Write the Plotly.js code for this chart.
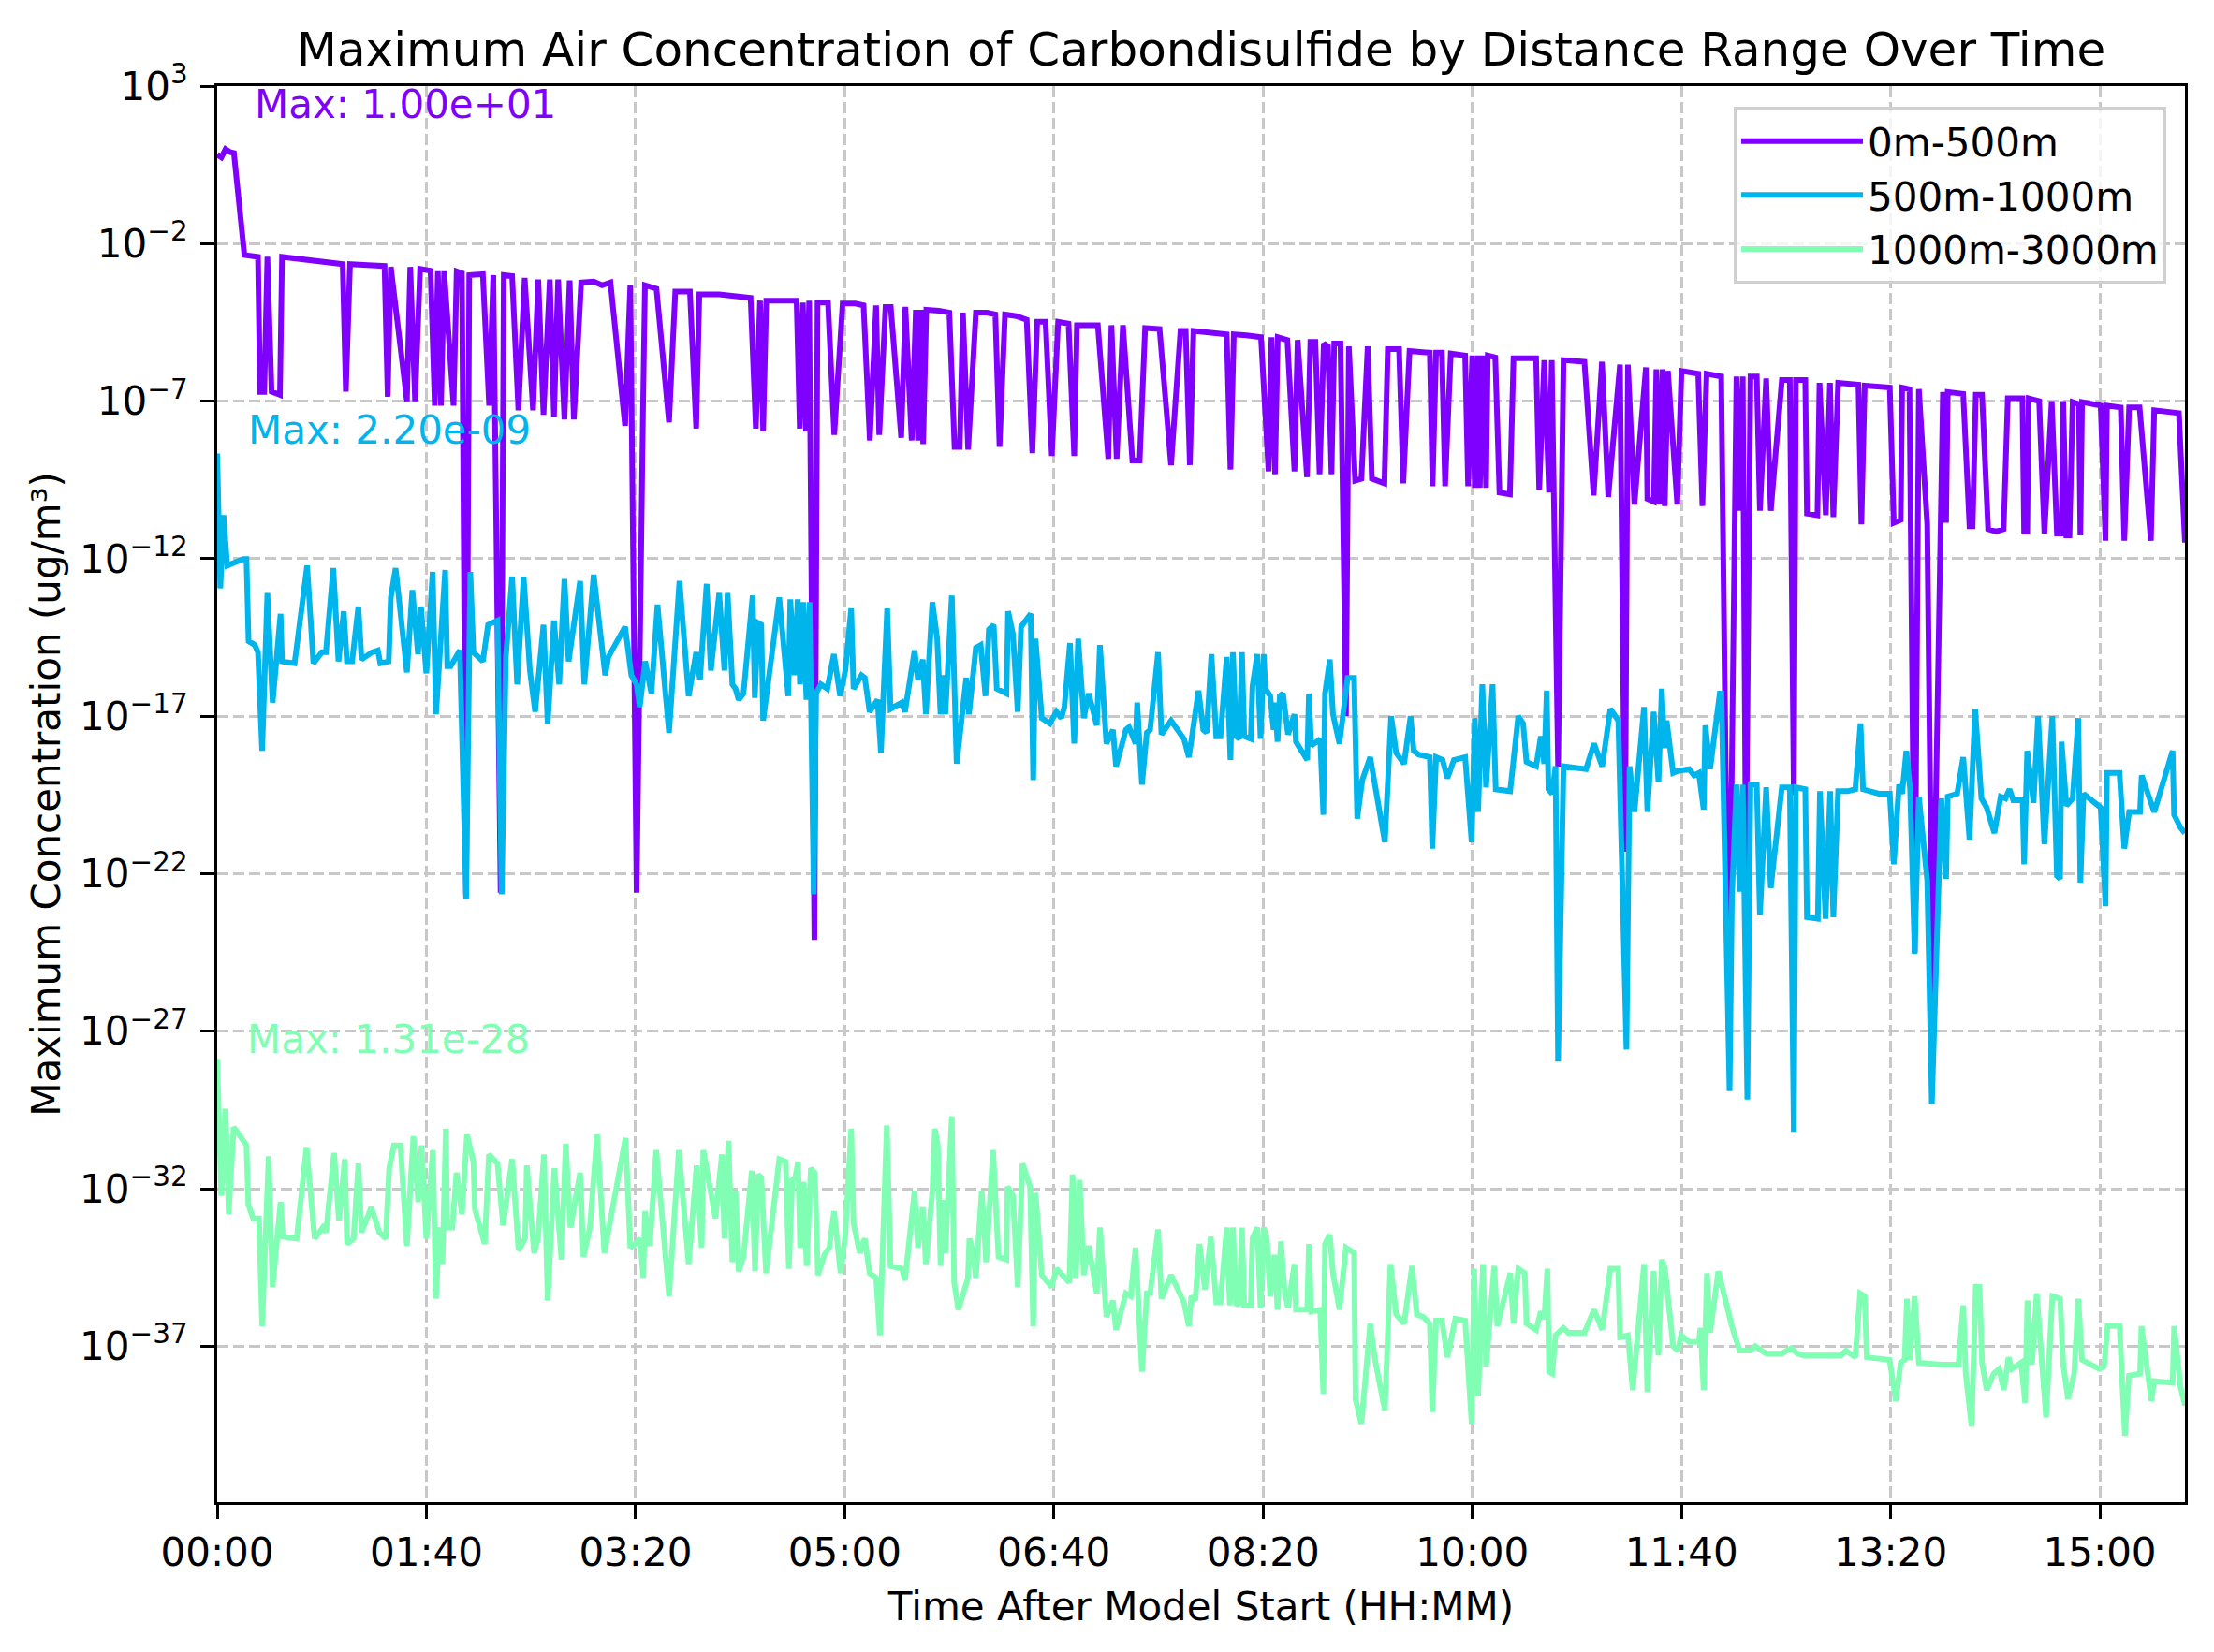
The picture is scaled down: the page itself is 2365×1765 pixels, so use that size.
<!DOCTYPE html>
<html>
<head>
<meta charset="utf-8">
<script src="https://cdn.plot.ly/plotly-3.0.1.min.js"></script>
<style>
  html, body { margin: 0; padding: 0; background: #ffffff; }
  #chart { width: 2365px; height: 1765px; }
</style>
</head>
<body>
<div id="chart"></div>
<script>
// Time after model start, in minutes
const seriesNames = ['0m-500m', '500m-1000m', '1000m-3000m'];
const seriesColors = ['#8000ff', '#00b4ec', '#80ffb4'];

// 0m-500m : times (min) and log10 of max concentration (ug/m3)
const time_0_500 = [0,2,4,6,8,13,19.5,20.5,22.5,24,26,30,31,40,50,60,61.5,63.5,72,80,81.5,83,90.7,92.3,94.6,97,102,104,105.5,107,108.5,113,114.5,117,119,120.5,127,130,132,135.5,137,141,144,147,151,153.5,156,159,161,163,166,168.5,170.5,174,180,184,188,195,197.5,200.5,203.5,204.5,210,216,219,226,229,230.5,240,
250,255,257.5,259.5,261,262.5,270,277,278.5,280,281.5,283,285.5,287,292,295,299,305,309,312,315,316.5,319.5,322,327,329,332,334,335,336.5,337.5,339,345,350,352.5,355,356.5,359,362.7,368,372,374,376.6,382,387,389.7,392,396,399,402,407,409.7,411,416,421,426,427.5,430,433,437.5,441,443.6,450.5,456,460.5,463,465,466.7,475,482.6,
484.4,486,492,499,502.6,504,505.7,507,511.6,515,516.5,521,522.6,525,527,529,531,532.7,534,537,539.6,541,544,547,550,552,558,559.6,565,567,570,575,579.7,581,582.7,585.5,587,589.7,596.6,598,600,601.2,602.8,603.6,605.2,606.6,607.4,611,613,618,619.7,625,630.5,632,634.4,636.7,638,641,643.6,653.6,658,662,665,670.6,673,674.4,677.5,683,683.7,686.8,688,689.5,691,692,693.5,698,700,708,710,712,719,
722.6,726.3,727.8,729.3,730.8,733,736,737.5,740.5,742.7,748,751.8,753.7,754.7,759.2,760,765,766,769,771,772.6,774.9,784.6,786,787.6,795,799.6,801.5,804.8,805.5,809,811.5,813.5,817.5,820,825,826.5,827.3,834.7,837.7,839.2,840.7,843.7,846.6,850.4,854,856,863,863.8,865.3,866,871,873.5,877,879.5,881.7,882.5,884,885.5,887,890,890.7,891.5,900.4,902.7,903.4,910,911.7,914,919,924.4,926,937.8,940.7];
const log10_0_500 = [0.83,0.74,1.0,0.91,0.88,-2.36,-2.42,-6.71,-6.71,-2.42,-6.7,-6.8,-2.42,-2.5,-2.57,-2.65,-6.7,-2.65,-2.68,-2.71,-6.86,-2.74,-7.0,-2.74,-7.0,-2.8,-2.86,-7.14,-2.88,-7.14,-2.88,-7.14,-2.88,-2.94,-22.7,-3.0,-2.97,-7.14,-3.0,-22.6,-3.0,-3.03,-7.29,-3.09,-7.29,-3.14,-7.43,-3.14,-7.49,-3.14,-7.58,-3.17,-7.58,-3.23,-3.2,-3.32,-3.23,-7.78,-3.32,-22.6,-7.58,-3.32,-3.43,-7.67,-3.52,-3.52,-7.87,-3.61,-3.61,
-3.67,-3.72,-7.87,-3.81,-7.96,-3.81,-3.81,-3.81,-7.87,-3.87,-7.96,-3.81,-24.1,-3.87,-3.87,-8.07,-3.9,-3.9,-3.96,-8.25,-3.96,-8.07,-4.01,-4.01,-8.16,-4.01,-8.25,-4.1,-8.25,-4.1,-8.36,-4.1,-4.13,-4.19,-8.45,-8.45,-4.19,-8.54,-4.19,-4.19,-4.25,-8.45,-4.25,-4.3,-4.42,-8.65,-4.48,-4.48,-8.74,-4.48,-4.54,-8.74,-4.59,-4.59,-4.59,-8.83,-4.59,-8.83,-4.59,-8.88,-8.88,-4.68,-4.71,-9.03,-4.77,-4.77,-9.03,-4.77,-4.83,-4.88,
-9.17,-4.88,-4.91,-4.97,-9.23,-4.97,-9.32,-4.97,-5.06,-9.23,-5.06,-9.41,-5.12,-5.12,-9.32,-5.17,-5.26,-9.32,-5.17,-5.17,-17.0,-5.26,-9.52,-9.46,-5.26,-9.46,-9.61,-5.35,-5.35,-9.61,-5.41,-5.43,-5.46,-9.7,-5.46,-5.46,-9.7,-5.49,-5.55,-9.7,-5.55,-9.75,-5.55,-9.75,-5.55,-9.75,-5.55,-5.61,-9.9,-9.96,-5.64,-5.64,-5.64,-9.81,-5.7,-9.9,-5.7,-18.6,-5.7,-5.75,-9.99,-5.75,-10.04,-5.84,-21.3,-5.84,-10.28,-5.93,-10.1,-10.19,-5.99,-10.28,-5.99,-10.33,-6.04,-10.28,-6.04,-6.13,-10.33,-6.13,-6.22,
-27.0,-6.22,-10.48,-6.22,-22.0,-6.22,-6.22,-10.48,-6.28,-10.48,-6.33,-6.33,-19.5,-6.33,-6.33,-10.57,-10.62,-6.42,-10.62,-6.42,-10.68,-6.42,-6.48,-10.91,-6.51,-6.54,-6.57,-10.86,-10.77,-6.57,-6.62,-24.5,-6.62,-10.91,-26.0,-6.71,-10.86,-6.71,-6.77,-10.97,-10.97,-6.8,-6.8,-11.06,-11.14,-11.06,-6.91,-6.91,-11.14,-11.14,-6.91,-7.0,-11.2,-7.0,-11.2,-11.2,-7.0,-11.26,-11.26,-7.03,-7.09,-11.26,-7.03,-7.14,-11.43,-7.14,-7.2,-11.43,-7.2,-7.2,-11.43,-7.29,-7.38,-11.49];

// 500m-1000m
const time_500_1000 = [0,1.5,3,4.8,12.5,14,15,18,19.5,21.5,24,26.5,30.3,31,37,43,46,50,52,55.5,58,60.5,62,64.5,67.5,69,74,76.8,78,82,83,85.3,90.7,93.3,96,97.4,100,103,104.6,109,110,111.6,116,119,121,122.5,127,129.5,134,136,138,141,143.4,146.5,149.5,152,156,158,161,163.5,166,168,173.5,175.5,180,185.5,187,195,198,200.5,202,204.6,207.6,210.5,216,221,225.4,229,230.8,234,236,240,
242.5,244,246.3,247.8,249.3,251.6,256,257,258.6,260.1,261,268.7,273,274,276,277.5,278.6,280.1,281.7,283.2,285.2,286.3,288.6,291.7,294.8,297.8,300.3,303.1,304.2,308,309.6,311.9,315.7,317.3,320.3,321.9,327.3,328.8,333.4,335,337.3,338.8,341.9,344.2,345.8,347.3,348.1,351.2,353.5,358.1,359.4,362.7,365,367.3,368.9,371.2,372.7,377.3,378.1,380.4,382.7,384.3,388.9,390.1,391.2,394.2,398.1,401.2,403.5,405,407.7,409.7,411.6,414.3,416.6,420.5,422,425.1,428.2,429.7,434.4,435.9,439,439.8,442.1,444.4,446,449.8,451.4,456,462.2,464.5,466,469.1,471.4,473,475.3,477.6,479.6,482.6,
484.4,485.6,487.1,488.7,489.9,491,494.1,494.9,497.2,498.8,500.3,501.1,503.4,505,505.7,506.9,508,509.5,511.9,515,515.7,521.1,521.9,523,525.7,527.3,528.8,529.6,531.9,533.4,536.5,540.4,543.5,545,547.4,551.2,558.2,561.2,563.6,567.4,570.5,572,574.3,579.7,580.9,582.7,585.8,588.1,591.2,596.6,599.7,601.2,602.8,604.8,606.6,607.7,609.7,611.2,618.1,622,624.3,625.9,630.5,632.8,634.4,635.6,636.4,638.2,639.8,641,643.6,654.4,658.2,662.1,666,669.8,673.7,675.2,677.5,682.1,683.7,686.7,689,690.6,691.8,692.9,696,698.3,703.7,706,708.3,710.6,711.4,713.7,718.3,719.1,723,
724.1,726.3,727.8,729.3,731.5,733,736,737.5,740.5,742.7,748,751.8,753.7,754.7,759.2,760,765.2,766.2,768.9,771.1,772.6,774.9,779.4,783.1,785.6,786.8,794.3,799.6,801.5,804,805.5,807.5,809.3,811.5,813.5,817.5,819.7,824.2,826.5,827.3,831.8,834.7,837.7,840.4,843.4,845.9,849.6,852.6,854.9,856.8,858.6,863.1,863.8,865.3,868.3,870.5,873.5,877.3,879.5,881,881.7,884,887,889.7,890.7,892.2,900.4,902.7,903.4,909.4,911.7,914,919.2,920,926,934.8,935.5,938.6,940.7];
const log10_500_1000 = [-8.66,-12.94,-10.62,-12.22,-12.01,-12.01,-14.62,-14.74,-14.97,-18.1,-13.09,-16.57,-13.75,-15.26,-15.32,-12.22,-15.32,-14.97,-14.97,-12.3,-15.26,-13.67,-15.26,-15.26,-13.52,-15.2,-14.97,-14.91,-15.32,-15.26,-13.23,-12.3,-15.61,-13.0,-15.03,-13.52,-15.64,-12.42,-16.94,-12.36,-15.41,-15.41,-14.91,-22.8,-12.42,-14.97,-15.26,-14.1,-13.96,-22.65,-15.12,-12.57,-15.99,-12.57,-15.55,-16.86,-14.1,-17.23,-13.96,-15.99,-12.65,-15.26,-12.71,-15.99,-12.51,-15.7,-15.12,-14.16,-15.7,-15.99,-16.71,-15.26,-16.28,-13.46,-17.52,-12.71,-16.36,-14.97,-15.84,-12.8,-15.55,-13.09,
-15.55,-13.09,-15.99,-16.13,-16.48,-16.28,-13.17,-16.42,-14.04,-14.1,-17.14,-13.23,-16.36,-13.29,-15.7,-13.29,-15.99,-13.38,-16.48,-13.38,-22.65,-16.28,-15.99,-16.13,-15.03,-16.36,-15.55,-13.58,-16.13,-15.7,-15.78,-16.86,-16.48,-18.16,-13.58,-16.77,-16.57,-16.86,-14.91,-15.84,-15.2,-16.94,-13.38,-14.54,-16.94,-15.7,-16.94,-13.17,-18.51,-15.78,-16.94,-14.83,-14.74,-16.36,-14.25,-14.1,-16.13,-16.28,-13.67,-14.39,-16.86,-14.16,-13.75,-19.03,-14.54,-17.06,-17.23,-16.86,-17.06,-16.71,-14.68,-17.87,-14.54,-17.06,-16.28,-17.29,-14.74,-17.87,-17.43,-18.59,-17.43,-17.35,-17.87,-16.57,-19.17,-17.52,-17.43,-14.97,-17.58,-17.14,-17.72,-18.3,-17.64,-16.19,-17.43,-17.52,-15.03,-17.64,-17.64,-15.12,
-18.39,-14.97,-17.64,-17.72,-14.97,-17.64,-17.72,-16.07,-15.03,-17.72,-15.03,-16.13,-16.36,-17.43,-16.57,-17.81,-16.36,-16.28,-17.58,-16.94,-17.81,-18.39,-16.28,-17.93,-17.81,-17.72,-20.13,-16.28,-15.2,-16.94,-17.87,-15.78,-15.78,-20.25,-19.03,-18.3,-21.0,-17.0,-18.16,-18.51,-17.0,-18.1,-18.22,-18.3,-21.2,-18.3,-18.39,-18.97,-18.39,-18.3,-21.0,-17.06,-20.04,-15.99,-19.26,-17.87,-15.99,-19.32,-19.38,-17.0,-17.23,-18.45,-18.59,-17.64,-18.51,-16.19,-19.32,-19.46,-18.59,-27.96,-18.59,-18.68,-17.87,-18.59,-16.77,-17.14,-27.58,-18.59,-20.04,-16.71,-20.04,-16.86,-19.09,-16.13,-18.01,-17.14,-18.8,-18.74,-18.68,-18.88,-18.8,-19.96,-17.29,-18.68,-16.28,-16.28,-28.9,
-22.8,-19.17,-22.57,-19.17,-29.17,-19.17,-19.17,-23.32,-19.26,-22.45,-19.26,-19.26,-30.19,-19.26,-19.32,-23.38,-23.43,-19.38,-23.43,-19.38,-23.38,-19.38,-19.38,-19.32,-17.23,-19.32,-19.46,-19.46,-21.7,-19.17,-19.46,-18.1,-19.32,-24.54,-19.55,-22.22,-29.32,-19.61,-22.16,-19.55,-19.46,-18.3,-20.91,-16.77,-19.61,-19.9,-20.71,-19.55,-19.61,-19.32,-19.67,-19.67,-21.7,-18.1,-19.75,-17.0,-21.06,-17.0,-22.07,-22.16,-17.81,-19.84,-19.61,-17.06,-22.28,-19.46,-19.9,-23.03,-18.8,-18.8,-21.2,-20.04,-20.04,-18.88,-20.04,-18.1,-20.13,-20.54,-20.71];

// 1000m-3000m
const time_1000_3000 = [0,2,4,5.5,7.9,14,14.9,17.2,20,21.5,24.6,26.5,30.3,31.4,38,42.7,46.6,50.5,52,55.9,58.2,61,62.1,65.2,67.5,69,73.7,77.5,80.6,82.2,84.5,87.6,90.7,93.8,96.1,97.7,100,103.1,104.6,106.2,107.7,109.3,110,112.4,114.4,117,119.4,122.5,123.2,127.9,129.9,134,136.7,141,144.1,147.2,148,151.5,153.4,156.2,158,161.2,164.6,166.6,168.9,173.5,175.1,178.2,181.6,185.1,195.2,197.5,199.8,202.2,203.7,204.5,206.8,209.9,216,220.7,225.4,229.2,231.6,232.4,238.2,241.3,
242.5,244.4,246.3,247.8,249.3,251.6,255.6,257.1,258.6,260.1,262.4,268.7,271.8,273.3,274.9,276.4,277.7,278.7,280.3,281.8,283.8,285.7,287.2,290.3,292.6,294.9,298,300.3,303.1,304.2,307.2,309.6,311.9,315,316.8,320.1,321.9,327.3,328.8,333.4,335,337.3,338.8,341.9,343.1,344.5,345.8,346.9,348.1,351.2,352.3,354.3,358.9,359.6,361.2,362.7,365.5,367.6,370.9,373.5,377.3,377.8,380.4,382.7,385,388.6,390.1,391.2,394.2,398.9,401.2,404.3,407.4,408.9,410.5,412.3,414.3,416.6,420.5,422,425.1,428.2,429.7,434.4,436.7,439,442.1,444.4,446,449.8,451.4,456,462.2,464.5,465.7,467.6,469.6,472.2,475,477.6,479.6,482.6,
484.1,485.6,487.1,488.7,489.9,491,492.6,494.1,494.9,497.2,498.8,500.3,501.8,503.4,505.4,506.9,508.5,510.3,511.9,515,515.7,521.1,521.9,523,527.3,528.8,529.6,531.9,533.4,536.5,539.6,543.5,544.2,547,551.2,553.5,558.2,560.9,563.6,567.4,571.2,573.5,576.6,579.7,580.9,582.7,585.5,588.1,591.9,596.6,599.7,600.9,602.8,605.1,606.6,608.2,610.5,612,618.2,619.7,622,625.1,625.9,630.5,632.8,634.4,635.9,636.7,638.2,639.8,643.6,645.9,653.6,658.2,662.1,666,669.8,670.6,674.4,676.7,682.1,683.7,686.7,689,690.6,692.1,696,698.3,699.8,703.7,708.3,709.1,710.6,712.2,713.7,717.6,724.1,
727.8,733,735.3,740.5,748,752.5,755.4,758.4,776.3,778.6,783.1,785.4,787.6,788.6,799.5,802.5,804.8,806.7,807.8,809.3,811.5,813.5,824.2,832.4,834.7,835.9,838.7,840.7,842.5,843.7,845.9,849.3,851.9,854.1,856.4,857.9,862.4,864.3,865.4,867.6,869.8,872.1,874.3,877.3,881,882.5,884.8,887.7,889.7,891.5,899.7,902,903.7,909.4,912,913.9,916.9,919.2,919.9,924.7,925.9,934.8,935.5,938.6,940.7];
const log10_1000_3000 = [-27.88,-32.22,-29.46,-32.8,-30.04,-30.62,-32.51,-32.94,-32.94,-36.36,-30.97,-35.12,-32.42,-33.52,-33.58,-30.68,-33.58,-33.23,-33.38,-30.86,-33.0,-31.06,-33.75,-33.58,-31.2,-33.38,-32.59,-33.38,-33.58,-31.35,-30.62,-30.62,-33.81,-30.33,-32.42,-30.62,-33.58,-30.77,-35.49,-33.23,-34.39,-30.1,-33.23,-33.23,-31.49,-32.8,-30.28,-31.14,-32.65,-33.75,-30.91,-31.2,-33.17,-31.06,-33.96,-33.58,-31.26,-34.04,-33.58,-30.91,-35.55,-31.35,-34.25,-30.57,-33.23,-31.49,-34.16,-33.23,-30.28,-34.04,-30.39,-33.87,-33.75,-33.58,-34.83,-32.71,-33.81,-30.77,-35.41,-30.77,-34.39,-31.26,-33.87,-30.77,-32.94,-30.91,
-33.58,-30.48,-34.33,-32.07,-34.62,-34.16,-31.43,-34.62,-31.55,-31.64,-34.68,-31.06,-31.14,-34.54,-31.72,-31.64,-31.14,-33.87,-31.78,-34.45,-31.35,-31.49,-34.74,-34.1,-33.87,-32.71,-34.68,-33.46,-30.1,-33.09,-34.04,-33.58,-34.68,-34.83,-36.65,-29.99,-34.45,-34.54,-34.91,-32.07,-33.87,-32.59,-34.39,-32.07,-30.1,-30.62,-34.45,-32.36,-34.04,-29.7,-34.97,-35.84,-34.83,-33.58,-33.96,-34.83,-32.07,-34.33,-30.77,-34.16,-34.25,-31.93,-32.22,-35.12,-31.2,-31.93,-36.36,-32.13,-34.74,-35.12,-34.54,-34.74,-34.97,-31.55,-34.83,-31.72,-34.74,-33.81,-35.32,-33.23,-36.07,-35.55,-36.48,-35.32,-35.41,-33.87,-37.81,-35.32,-35.32,-33.29,-35.49,-34.74,-35.61,-36.36,-35.41,-35.55,-33.75,-35.2,-33.52,-35.61,-35.61,-33.23,
-35.7,-33.23,-35.7,-35.61,-33.23,-35.7,-35.7,-35.7,-33.58,-33.23,-35.78,-33.23,-33.58,-35.41,-34.1,-35.84,-33.67,-35.26,-35.78,-34.39,-35.84,-35.84,-33.75,-35.9,-35.84,-38.51,-33.75,-33.46,-34.68,-35.84,-33.87,-34.04,-38.68,-39.46,-36.28,-37.43,-39.03,-34.39,-35.99,-36.28,-34.45,-35.99,-36.07,-36.28,-39.09,-36.19,-36.19,-37.35,-36.13,-36.19,-39.46,-34.54,-38.59,-34.39,-37.64,-36.28,-34.45,-36.36,-34.68,-36.28,-34.54,-34.68,-36.28,-36.48,-35.9,-36.13,-34.54,-37.81,-37.87,-36.65,-36.42,-36.57,-36.57,-35.84,-36.48,-34.54,-34.54,-36.71,-36.65,-38.39,-34.39,-38.45,-34.62,-37.29,-34.25,-34.54,-37.0,-37.14,-36.65,-36.86,-36.86,-36.42,-38.39,-34.68,-36.57,-34.62,-36.36,
-37.14,-37.14,-37.0,-37.23,-37.23,-37.06,-37.23,-37.29,-37.29,-37.14,-37.35,-35.32,-35.41,-37.35,-37.43,-38.74,-37.52,-37.43,-35.49,-37.43,-35.41,-37.52,-37.58,-37.58,-35.7,-37.87,-39.55,-35.12,-35.12,-37.52,-38.39,-37.87,-37.72,-38.39,-37.35,-37.72,-37.52,-38.8,-35.55,-37.58,-35.32,-37.58,-39.26,-35.41,-35.49,-37.58,-38.68,-37.87,-35.49,-37.43,-37.72,-37.64,-36.36,-36.36,-39.84,-37.93,-37.87,-37.87,-36.36,-38.74,-38.1,-38.16,-36.36,-38.3,-38.88];

// Axis ticks
const xTickMinutes = [0,100,200,300,400,500,600,700,800,900];
const xTickLabels = ['00:00','01:40','03:20','05:00','06:40','08:20','10:00','11:40','13:20','15:00'];
const yTickExponents = [3,-2,-7,-12,-17,-22,-27,-32,-37];

// Max annotations
const maxLabels = ['Max: 1.00e+01', 'Max: 2.20e-09', 'Max: 1.31e-28'];

const FONT = 'DejaVu Sans, Liberation Sans, Arial, sans-serif';
const toConc = arr => arr.map(v => Math.pow(10, v));

const times = [time_0_500, time_500_1000, time_1000_3000];
const logs = [log10_0_500, log10_500_1000, log10_1000_3000];

const traces = seriesNames.map((name, i) => ({
  type: 'scatter',
  mode: 'lines',
  name: name,
  x: times[i],
  y: toConc(logs[i]),
  line: { color: seriesColors[i], width: 6 }
}));

const yTickVals = yTickExponents.map(e => Math.pow(10, e));
const yTickText = yTickExponents.map(e => '10<sup>' + (e < 0 ? '\u2212' + (-e) : e) + '</sup>');

const annPos = [
  { x: 17, y: 2.41 },
  { x: 14, y: -7.93 },
  { x: 13.5, y: -27.25 }
];

const annotations = maxLabels.map((t, i) => ({
  text: t,
  x: annPos[i].x,
  y: annPos[i].y,
  xref: 'x', yref: 'y',
  xanchor: 'left', yanchor: 'middle',
  showarrow: false,
  font: { family: FONT, size: 42, color: seriesColors[i] }
}));

const layout = {
  width: 2365,
  height: 1765,
  paper_bgcolor: '#ffffff',
  plot_bgcolor: '#ffffff',
  margin: { l: 232, r: 31, t: 92, b: 160, pad: 0 },
  font: { family: FONT, size: 42, color: '#000000' },
  title: {
    text: 'Maximum Air Concentration of Carbondisulfide by Distance Range Over Time',
    font: { family: FONT, size: 50, color: '#000000' },
    x: 0.5, xref: 'paper', xanchor: 'center',
    y: 1 - 52 / 1765, yref: 'container', yanchor: 'middle'
  },
  xaxis: {
    range: [0, 940.7],
    tickmode: 'array',
    tickvals: xTickMinutes,
    ticktext: xTickLabels,
    showgrid: true,
    gridcolor: '#c8c8c8',
    gridwidth: 3,
    griddash: '12px,5px',
    zeroline: false,
    showline: true,
    linecolor: '#000000',
    linewidth: 3,
    mirror: true,
    ticks: 'outside',
    ticklen: 15,
    tickwidth: 3,
    tickcolor: '#000000',
    ticklabelstandoff: 0,
    tickfont: { family: FONT, size: 42, color: '#000000' },
    title: {
      text: 'Time After Model Start (HH:MM)',
      font: { family: FONT, size: 42, color: '#000000' },
      standoff: 20
    }
  },
  yaxis: {
    type: 'log',
    range: [-41.95, 3],
    tickmode: 'array',
    tickvals: yTickVals,
    ticktext: yTickText,
    showgrid: true,
    gridcolor: '#c8c8c8',
    gridwidth: 3,
    griddash: '12px,5px',
    zeroline: false,
    showline: true,
    linecolor: '#000000',
    linewidth: 3,
    mirror: true,
    ticks: 'outside',
    ticklen: 15,
    tickwidth: 3,
    tickcolor: '#000000',
    ticklabelstandoff: 5,
    tickfont: { family: FONT, size: 42, color: '#000000' },
    title: {
      text: 'Maximum Concentration (ug/m³)',
      font: { family: FONT, size: 42, color: '#000000' },
      standoff: 8
    }
  },
  showlegend: true,
  legend: {
    x: 0.9905, y: 0.9855,
    xanchor: 'right', yanchor: 'top',
    bgcolor: 'rgba(255,255,255,0.8)',
    bordercolor: '#d0d0d0',
    borderwidth: 3,
    font: { family: FONT, size: 42, color: '#000000' },
    itemwidth: 130,
    tracegroupgap: 0
  },
  annotations: annotations
};

Plotly.newPlot('chart', traces, layout, { staticPlot: true, displayModeBar: false });
</script>
</body>
</html>
